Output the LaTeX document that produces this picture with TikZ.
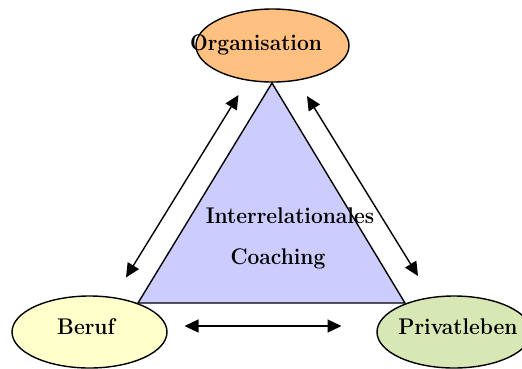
\documentclass[tikz,border=0pt]{standalone}
\usepackage{fontspec}
\usetikzlibrary{arrows.meta}
\definecolor{orgfill}{HTML}{FFC080}
\definecolor{trifill}{HTML}{CCCCFF}
\definecolor{berfill}{HTML}{FFFFCC}
\definecolor{privfill}{HTML}{D8E8B4}
\tikzset{
  bubble/.style={draw=black, line width=1.4pt},
  lbl/.style={font=\fontsize{21}{24}\selectfont\bfseries, inner sep=0pt, yscale=1.08},
  rel/.style={line width=1.4pt, {Triangle[length=14pt,width=13pt]}-{Triangle[length=14pt,width=13pt]}},
}
\begin{document}
\begin{tikzpicture}[x=1pt,y=-1pt]
\useasboundingbox (0,0) rectangle (522,368);
\clip (0,0) rectangle (522,368);
% ellipses
\draw[bubble, fill=orgfill] (272.5,45.5) ellipse [x radius=76.5, y radius=36.5];
\draw[bubble, fill=berfill] (89.5,332) ellipse [x radius=77.5, y radius=36];
\draw[bubble, fill=privfill] (454,332) ellipse [x radius=77, y radius=36];
% triangle
\coordinate (apex) at (272,83);
\coordinate (bl) at (138,303);
\coordinate (br) at (405,303);
\draw[line width=1.4pt, fill=trifill, line join=miter] (apex) -- (bl) -- (br) -- cycle;
% labels
\node[lbl] (org) at (256,45) {Organisation};
\node[lbl] (ber) at (86,327) {Beruf};
\node[lbl] (priv) at (458,327) {Privatleben};
\node[lbl] (inter) at (290,216) {Interrelationales};
\node[lbl] (coach) at (278,259) {Coaching};
% connectors
\coordinate (a1) at (238.5,95);
\coordinate (a2) at (126,277.5);
\coordinate (b1) at (307,96);
\coordinate (b2) at (418,276);
\coordinate (c1) at (184.5,326);
\coordinate (c2) at (341.5,326);
\draw[rel] (a1) -- (a2);
\draw[rel] (b1) -- (b2);
\draw[rel] (c1) -- (c2);
\end{tikzpicture}
\end{document}
